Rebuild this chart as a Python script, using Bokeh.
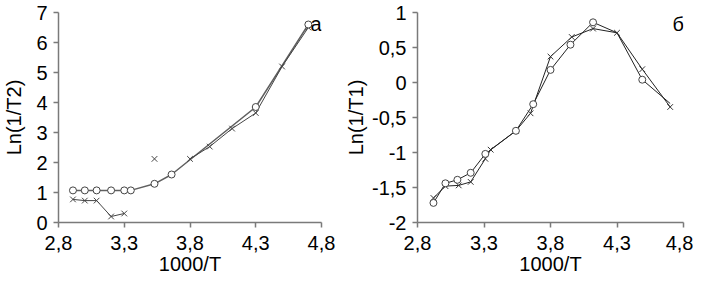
from bokeh.plotting import figure
from bokeh.layouts import row
from bokeh.models import Range1d, FixedTicker, Label
from bokeh.embed import file_html
from bokeh.resources import INLINE

# ---- data: panel a ----
a_circ_x = [2.91, 3.0, 3.09, 3.2, 3.3, 3.35, 3.53, 3.66, 4.3, 4.7]
a_circ_y = [1.07, 1.07, 1.07, 1.07, 1.07, 1.07, 1.29, 1.6, 3.85, 6.6]
a_cross_x = [2.91, 3.0, 3.09, 3.2, 3.3, 3.53, 3.8, 3.95, 4.12, 4.3, 4.5, 4.7]
a_cross_y = [0.77, 0.73, 0.73, 0.2, 0.3, 2.12, 2.12, 2.53, 3.13, 3.65, 5.2, 6.5]
a_cross_segments = [(0, 5), (6, 12)]

# ---- data: panel b ----
b_circ_x = [2.92, 3.01, 3.1, 3.2, 3.31, 3.54, 3.67, 3.8, 3.95, 4.12, 4.3, 4.49, 4.7]
b_circ_y = [-1.72, -1.44, -1.39, -1.29, -1.02, -0.69, -0.31, 0.18, 0.54, 0.86, 0.71, 0.04, -0.3]
b_circ_marked = [True, True, True, True, True, True, True, True, True, True, False, True, False]
b_cross_x = [2.92, 3.01, 3.11, 3.2, 3.31, 3.35, 3.54, 3.65, 3.8, 3.96, 4.12, 4.3, 4.49, 4.7]
b_cross_y = [-1.65, -1.48, -1.47, -1.42, -1.09, -0.96, -0.69, -0.44, 0.37, 0.65, 0.77, 0.71, 0.19, -0.35]

x_ticks = [2.8, 3.3, 3.8, 4.3, 4.8]
x_tick_labels = ["2,8", "3,3", "3,8", "4,3", "4,8"]
a_y_ticks = [0, 1, 2, 3, 4, 5, 6, 7]
a_y_tick_labels = ["0", "1", "2", "3", "4", "5", "6", "7"]
b_y_ticks = [-2, -1.5, -1, -0.5, 0, 0.5, 1]
b_y_tick_labels = ["-2", "-1,5", "-1", "-0,5", "0", "0,5", "1"]

FONT = "Liberation Sans"
AXIS_COLOR = "#7a7a7a"


def make_fig(width, left, right, yr, yticks, ylabels, ylab, ystand):
    p = figure(width=width, height=277, output_backend="svg", toolbar_location=None,
               x_range=Range1d(2.8, 4.8), y_range=Range1d(*yr),
               min_border_left=left, min_border_right=right, min_border_top=12,
               min_border_bottom=10)
    p.outline_line_color = None
    p.grid.visible = False
    p.background_fill_color = "white"
    p.border_fill_color = "white"
    p.xaxis.ticker = FixedTicker(ticks=x_ticks)
    p.xaxis.major_label_overrides = dict(zip(x_ticks, x_tick_labels))
    p.yaxis.ticker = FixedTicker(ticks=yticks)
    p.yaxis.major_label_overrides = dict(zip(yticks, ylabels))
    for ax in (p.xaxis[0], p.yaxis[0]):
        ax.axis_line_color = AXIS_COLOR
        ax.axis_line_width = 1.5
        ax.major_tick_line_color = AXIS_COLOR
        ax.major_tick_line_width = 1.5
        ax.major_tick_out = 5
        ax.major_tick_in = 0
        ax.minor_tick_line_color = None
        ax.major_label_text_font = FONT
        ax.major_label_text_font_size = "20px"
        ax.major_label_text_color = "black"
        ax.axis_label_text_font = FONT
        ax.axis_label_text_font_size = "20px"
        ax.axis_label_text_font_style = "normal"
        ax.axis_label_text_color = "black"
    p.xaxis.axis_label = "1000/T"
    p.xaxis.major_label_standoff = 8
    p.xaxis.axis_label_standoff = 0
    p.yaxis.axis_label = ylab
    p.yaxis.major_label_standoff = 6
    p.yaxis.axis_label_standoff = ystand
    return p


# ---- panel a ----
pa = make_fig(342, 53, 21, (0, 7), a_y_ticks, a_y_tick_labels, "Ln(1/T2)", 8)
pa.line(a_circ_x, a_circ_y, line_color="#606060", line_width=1.5)
for s, e in a_cross_segments:
    pa.line(a_cross_x[s:e], a_cross_y[s:e], line_color="#444444", line_width=1)
pa.scatter(a_cross_x, a_cross_y, marker="x", size=8, line_color="#444444", line_width=1)
pa.scatter(a_circ_x, a_circ_y, marker="circle", size=7, fill_color="white",
           line_color="#444444", line_width=1)
pa.add_layout(Label(x=4.8, y=7.0, text="а", text_font=FONT, text_font_size="20px",
                    text_align="right", text_baseline="top", text_color="black"))

# ---- panel b ----
pb = make_fig(351, 72, 10, (-2, 1), b_y_ticks, b_y_tick_labels, "Ln(1/T1)", 2)
pb.line(b_circ_x, b_circ_y, line_color="#222222", line_width=1)
pb.line(b_cross_x, b_cross_y, line_color="#222222", line_width=1)
pb.scatter(b_cross_x, b_cross_y, marker="x", size=8, line_color="#333333", line_width=1)
bx = [x for x, m in zip(b_circ_x, b_circ_marked) if m]
by = [y for y, m in zip(b_circ_y, b_circ_marked) if m]
pb.scatter(bx, by, marker="circle", size=7, fill_color="white",
           line_color="#444444", line_width=1)
pb.add_layout(Label(x=4.76, y=1.0, text="б", text_font=FONT, text_font_size="20px",
                    text_align="center", text_baseline="top", text_color="black"))

layout = row(pa, pb)
open("out.html", "w").write(file_html(layout, INLINE))
